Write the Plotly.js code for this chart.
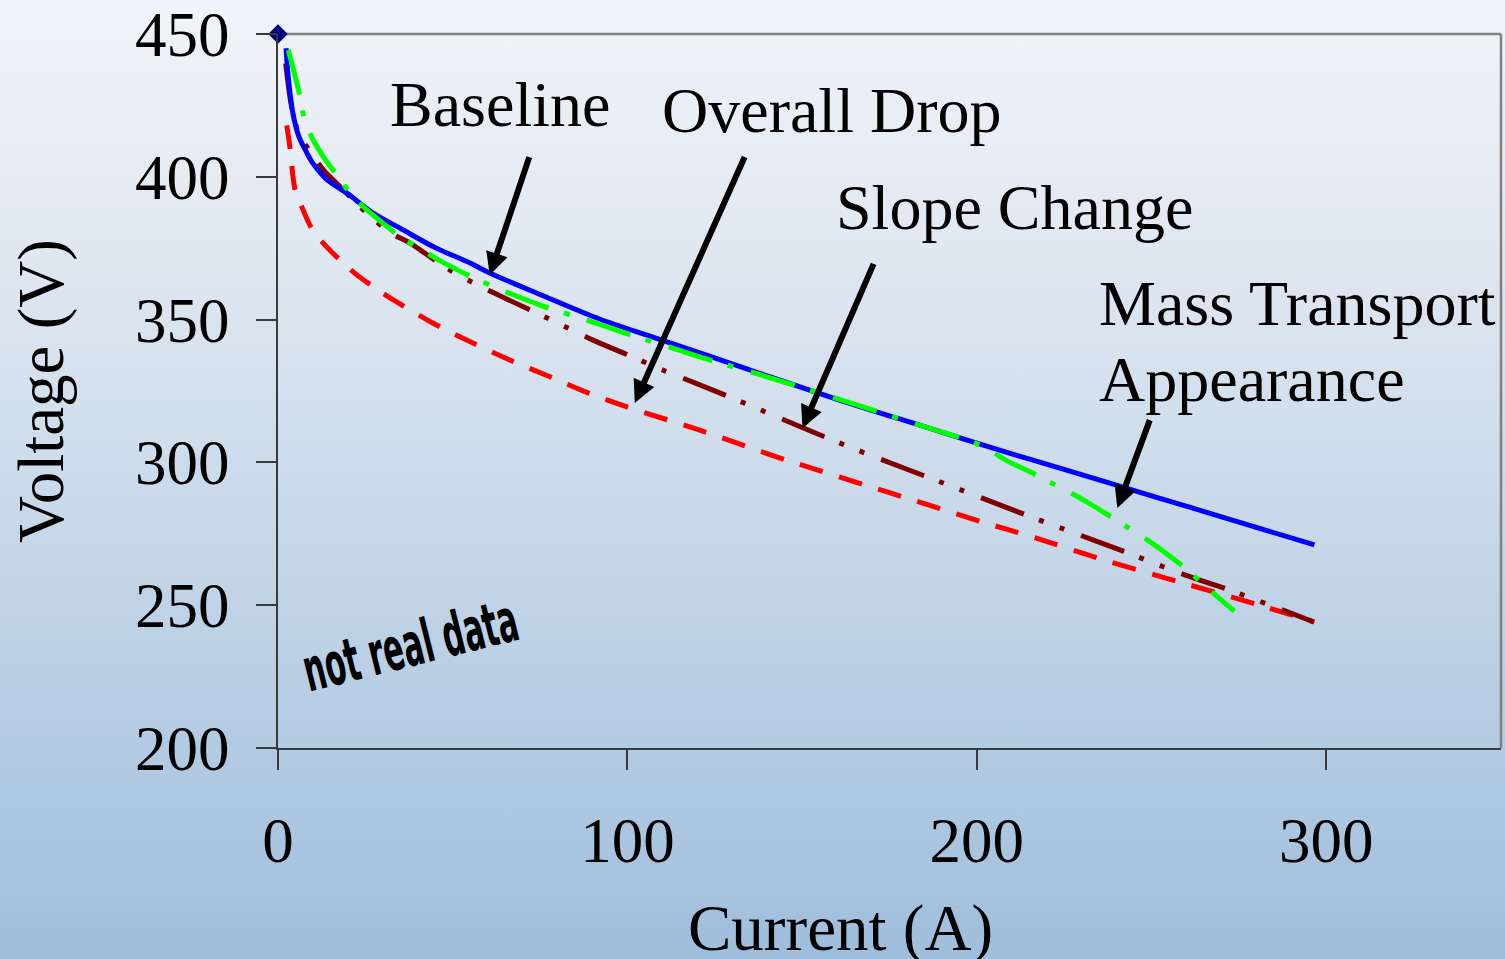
<!DOCTYPE html>
<html>
<head>
<meta charset="utf-8">
<script src="https://cdn.plot.ly/plotly-3.0.1.min.js"></script>
<style>
  html, body { margin: 0; padding: 0; }
  body {
    width: 1505px; height: 959px; overflow: hidden;
    background: linear-gradient(to bottom, #f1f4f8 0%, #dde6f0 30%, #c3d5e7 60%, #9fbedc 100%);
  }
  #chart { width: 1505px; height: 959px; }
</style>
</head>
<body>
<div id="chart"></div>
<script>
// ---- data ----
const baselineI = [2.3, 3, 4.3, 6, 8, 10, 14, 19.7, 27, 35.8, 45, 55, 60.6, 75, 92, 109, 135, 160, 185, 206.5, 218, 250, 275, 296.6];
const baselineV = [445, 434, 422, 414, 409, 404.7, 399, 394.3, 387.5, 381.4, 375.2, 369.8, 366.3, 358.8, 350.2, 343.2, 332.4, 322.1, 312.5, 304.3, 300.1, 288.3, 279.1, 271.1];

const overallDropI = [2.5, 3.4, 4.9, 6.8, 9.6, 13, 17.7, 22, 27.3, 33, 44, 54.9, 66, 77.8, 88, 99.7, 120.7, 145.5, 175, 202.7, 214.1, 237, 260, 280, 296.6];
const overallDropV = [418, 410.5, 395.4, 389.5, 382, 376.7, 370.9, 366.2, 361.5, 356.9, 349, 342.3, 336, 330, 324.7, 319.5, 311.3, 300.8, 289.4, 278.7, 274.6, 265.6, 257.4, 250.3, 244.1];

const slopeChangeI = [2.2, 3.9, 6, 9.6, 13, 17.7, 22.5, 27, 32.5, 38, 48, 56, 66, 78, 90, 100, 110, 120, 135, 150, 165, 180, 195, 211, 225, 241.7, 259.5, 272.3, 285, 296.3];
const slopeChangeV = [439.7, 424.5, 415, 408.2, 402.4, 396.6, 390.7, 385.5, 380.2, 376.6, 368.2, 362.8, 356.9, 350, 342.9, 337.7, 332.4, 327.5, 320, 312.2, 304.7, 297.6, 290.6, 283, 276.6, 269, 260.6, 255.3, 249.5, 244.2];

const massTransportI = [2.95, 6.1, 7.3, 9.6, 13, 16.8, 20.6, 24.9, 30, 34.9, 40.4, 45.9, 55, 63.5, 75, 87.7, 100, 112.2, 124.5, 135, 160, 185, 200, 209.5, 215.2, 221, 227.1, 232.5, 237.9, 243.5, 249.1, 254.1, 259.1, 264, 268.8, 273.7];
const massTransportV = [444.4, 429.2, 421.6, 414, 407, 400.6, 394.4, 389, 383.8, 379, 375, 370.9, 365.2, 360.6, 355.1, 350.1, 345, 340.3, 335.5, 331.8, 322.3, 312.5, 306.5, 300, 296.7, 293, 289.2, 285.4, 281.3, 277, 272.6, 268.2, 263.5, 258.3, 253, 247.9];

const startPointI = [0];
const startPointV = [450];

const xTicks = [0, 100, 200, 300];
const yTicks = [200, 250, 300, 350, 400, 450];

const serif = '"Liberation Serif", "Times New Roman", serif';

const traces = [
  { x: overallDropI, y: overallDropV, mode: 'lines', name: 'Overall Drop',
    line: { color: '#ff0000', width: 5, dash: '24px,17px', shape: 'spline', smoothing: 0.9 } },
  { x: slopeChangeI, y: slopeChangeV, mode: 'lines', name: 'Slope Change',
    line: { color: '#800000', width: 5, dash: '46px,16px,5px,17px,5px,18px', shape: 'spline', smoothing: 0.9 } },
  { x: baselineI, y: baselineV, mode: 'lines', name: 'Baseline',
    line: { color: '#0000ff', width: 5, shape: 'spline', smoothing: 0.9 } },
  { x: massTransportI, y: massTransportV, mode: 'lines', name: 'Mass Transport',
    line: { color: '#00ff00', width: 5, dash: '46px,16px,6px,18px', shape: 'spline', smoothing: 0.9 } },
  { x: startPointI, y: startPointV, mode: 'markers', name: 'start',
    marker: { symbol: 'diamond', size: 15, color: '#000080' }, cliponaxis: false }
];

function label(text, x, y) {
  return { text: text, x: x, y: y, xref: 'x', yref: 'y', xanchor: 'left', yanchor: 'middle',
           showarrow: false, font: { family: serif, size: 64, color: '#000' } };
}
function arrow(tipX, tipY, tailX, tailY) {
  return { text: ' ', x: tipX, y: tipY, xref: 'x', yref: 'y', ax: tailX, ay: tailY, axref: 'x', ayref: 'y',
           showarrow: true, arrowhead: 2, arrowsize: 0.75, arrowwidth: 6, arrowcolor: '#000',
           standoff: 0, startstandoff: 0, font: { size: 1 } };
}

const layout = {
  width: 1505, height: 959,
  margin: { l: 278, r: 4, t: 34, b: 211, pad: 0 },
  paper_bgcolor: 'rgba(0,0,0,0)',
  plot_bgcolor: 'rgba(0,0,0,0)',
  showlegend: false,
  font: { family: serif, size: 62, color: '#000' },
  xaxis: {
    range: [0, 350], tickvals: xTicks, ticktext: xTicks.map(String),
    showgrid: false, zeroline: false, showline: true, linecolor: '#3a3a3a', linewidth: 2,
    ticks: 'outside', ticklen: 20, tickwidth: 2, tickcolor: '#3a3a3a',
    ticklabelstandoff: 16,
    tickfont: { family: serif, size: 63, color: '#000' },
    automargin: false
  },
  yaxis: {
    range: [200, 450], tickvals: yTicks, ticktext: yTicks.map(String),
    showgrid: false, zeroline: false, showline: true, linecolor: '#3a3a3a', linewidth: 2,
    ticks: 'outside', ticklen: 20, tickwidth: 2, tickcolor: '#3a3a3a',
    ticklabelstandoff: 14,
    tickfont: { family: serif, size: 63, color: '#000' },
    title: { text: 'Voltage (V)', font: { family: serif, size: 65, color: '#000' }, standoff: 50 },
    automargin: false
  },
  shapes: [
    { type: 'line', xref: 'paper', yref: 'paper', x0: 0, x1: 1, y0: 1, y1: 1,
      line: { color: '#808080', width: 2.5 }, layer: 'below' },
    { type: 'line', xref: 'paper', yref: 'paper', x0: 1, x1: 1, y0: 0, y1: 1,
      line: { color: '#808080', width: 2.5 }, layer: 'below' }
  ],
  annotations: [
    label('Baseline', 31.5, 425.4),
    label('Overall Drop', 109.3, 423.2),
    label('Slope Change', 159.1, 389.3),
    label('Mass Transport', 234.4, 355.7),
    label('Appearance', 234.4, 329.0),
    arrow(60.6, 365.6, 72.1, 407.6),
    arrow(102.1, 320.8, 133.8, 407.6),
    arrow(150.1, 312.0, 170.7, 370.2),
    arrow(240.2, 284.0, 249.7, 315.5),
    { text: 'Current (A)', xref: 'paper', yref: 'paper', x: 0.4603, y: -0.252,
      xanchor: 'center', yanchor: 'middle', showarrow: false,
      font: { family: serif, size: 65, color: '#000' } },
    { text: '<b>not real data</b>', x: 37.8, y: 236.1, xref: 'x', yref: 'y', showarrow: false,
      textangle: -14, font: { family: '"DejaVu Sans", sans-serif', size: 60, color: '#000' } }
  ]
};

Plotly.newPlot('chart', traces, layout, { staticPlot: true, displayModeBar: false }).then(function () {
  // condense the "not real data" word-art horizontally
  document.querySelectorAll('.annotation-text').forEach(function (t) {
    if (t.textContent.indexOf('not real data') >= 0) {
      t.style.transformBox = 'fill-box';
      t.style.transformOrigin = 'center';
      t.style.transform = 'scale(0.5, 1)';
    }
  });
});
</script>
</body>
</html>
